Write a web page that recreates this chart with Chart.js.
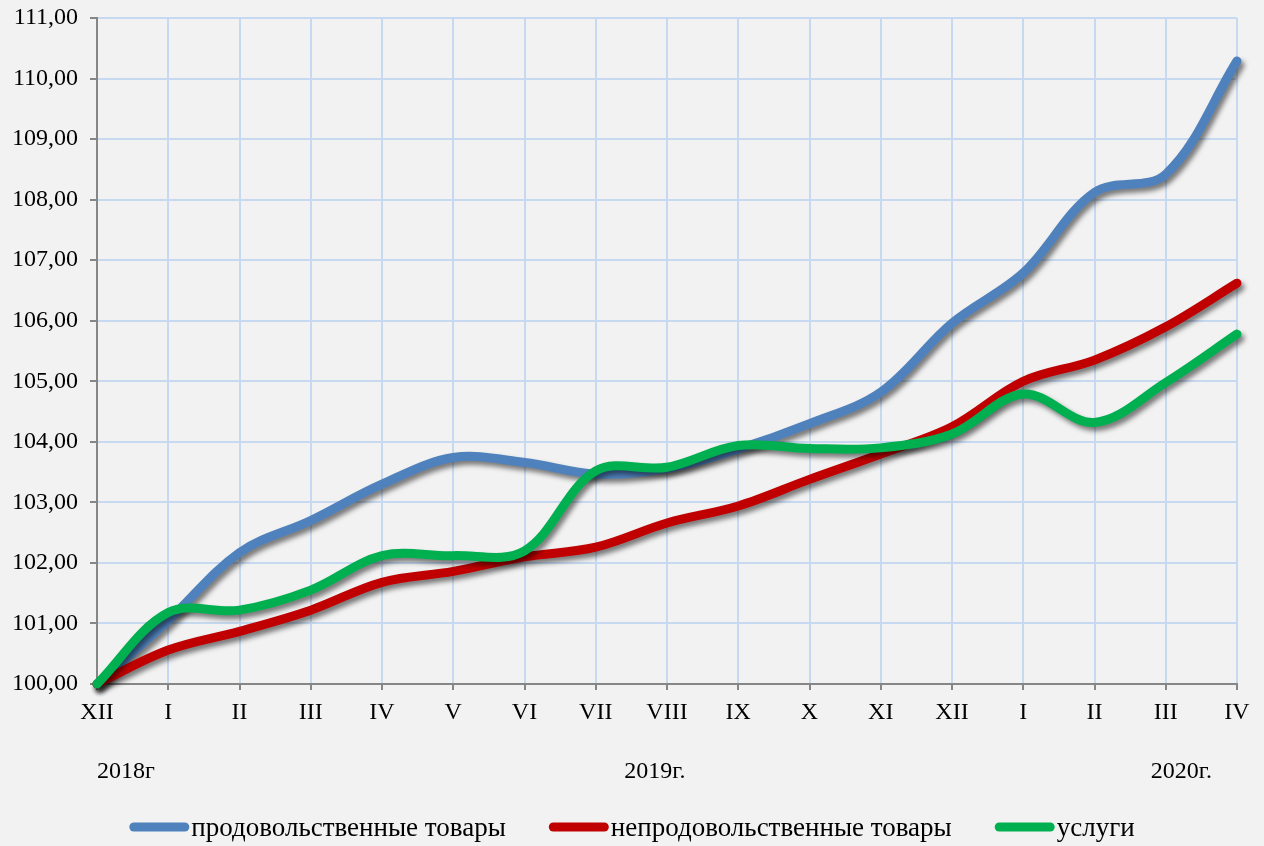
<!DOCTYPE html>
<html>
<head>
<meta charset="utf-8">
<script src="https://cdn.jsdelivr.net/npm/chart.js@4.4.1/dist/chart.umd.min.js"></script>
<style>
  html, body { margin: 0; padding: 0; background: #f2f2f2; }
  #chart { display: block; }
</style>
</head>
<body>
<canvas id="chart" width="1264" height="846"></canvas>
<script>
// months from XII 2018 to IV 2020
const months = ['XII', 'I', 'II', 'III', 'IV', 'V', 'VI', 'VII', 'VIII', 'IX', 'X', 'XI', 'XII', 'I', 'II', 'III', 'IV'];
const food = [100.00, 101.05, 102.17, 102.70, 103.30, 103.74, 103.66, 103.47, 103.56, 103.88, 104.30, 104.82, 105.96, 106.79, 108.12, 108.42, 110.29];
const nonFood = [100.00, 100.56, 100.87, 101.22, 101.68, 101.86, 102.10, 102.26, 102.66, 102.94, 103.38, 103.80, 104.25, 105.00, 105.35, 105.90, 106.62];
const services = [100.00, 101.18, 101.22, 101.55, 102.12, 102.12, 102.20, 103.52, 103.58, 103.94, 103.89, 103.90, 104.13, 104.79, 104.32, 104.98, 105.78];
const seriesNames = ['продовольственные товары', 'непродовольственные товары', 'услуги'];
const yearLabels = ['2018г', '2019г.', '2020г.'];
const yMin = 100;
const yMax = 111;

const FONT = "'Times New Roman', 'Liberation Serif', serif";
const colors = ['#4f81bd', '#c00000', '#00b050'];
const gridColor = '#c6d9f1';
const axisColor = '#868686';

// drop shadow under every line
const lineShadow = {
  id: 'lineShadow',
  beforeDatasetDraw(chart) {
    const c = chart.ctx;
    c.save();
    c.shadowColor = 'rgba(0, 0, 0, 0.5)';
    c.shadowBlur = 5;
    c.shadowOffsetX = 3;
    c.shadowOffsetY = 4;
  },
  afterDatasetDraw(chart) {
    chart.ctx.restore();
  }
};

// year captions under the axis + legend row
const extras = {
  id: 'extras',
  afterDraw(chart) {
    const ctx = chart.ctx;
    const xs = chart.scales.x;
    ctx.save();
    ctx.fillStyle = '#000';
    ctx.font = '24px ' + FONT;
    ctx.textBaseline = 'middle';

    const yearPos = [[0, 'left'], [7.83, 'center'], [15.22, 'center']];
    yearLabels.forEach((t, i) => {
      ctx.textAlign = yearPos[i][1];
      ctx.fillText(t, xs.getPixelForValue(yearPos[i][0]), 772);
    });

    // legend
    ctx.font = '27px ' + FONT;
    const markW = 60, gap = 2, spacing = 43, ly = 829;
    const items = chart.data.datasets.map(ds => ({
      text: ds.label,
      color: ds.borderColor,
      w: markW + gap + ctx.measureText(ds.label).width
    }));
    const total = items.reduce((s, it) => s + it.w, 0) + spacing * (items.length - 1);
    let x = (chart.width - total) / 2;
    ctx.textAlign = 'left';
    items.forEach(it => {
      ctx.strokeStyle = it.color;
      ctx.lineWidth = 9;
      ctx.lineCap = 'round';
      ctx.beginPath();
      ctx.moveTo(x + 4.5, ly - 2);
      ctx.lineTo(x + markW - 4.5, ly - 2);
      ctx.stroke();
      ctx.fillText(it.text, x + markW + gap, ly);
      x += it.w + spacing;
    });
    ctx.restore();
  }
};

const ticksFont = { family: FONT, size: 24 };

new Chart(document.getElementById('chart'), {
  type: 'line',
  data: {
    labels: months,
    datasets: [
      { label: seriesNames[0], data: food, borderColor: colors[0], backgroundColor: colors[0], order: 3 },
      { label: seriesNames[1], data: nonFood, borderColor: colors[1], backgroundColor: colors[1], order: 2 },
      { label: seriesNames[2], data: services, borderColor: colors[2], backgroundColor: colors[2], order: 1 }
    ]
  },
  plugins: [lineShadow, extras],
  options: {
    responsive: false,
    animation: false,
    layout: { padding: { top: 18, right: 27, bottom: 0, left: 0 } },
    datasets: { line: { clip: false } },
    elements: {
      point: { radius: 0 },
      line: { borderWidth: 9, tension: 0.35, borderCapStyle: 'round', borderJoinStyle: 'round', fill: false }
    },
    plugins: {
      legend: { display: false },
      tooltip: { enabled: false }
    },
    scales: {
      x: {
        offset: false,
        grid: { color: gridColor, lineWidth: 2, tickColor: axisColor, tickLength: 6, tickWidth: 2, offset: false },
        border: { color: axisColor, width: 2 },
        ticks: { color: '#000', font: ticksFont, padding: 8, maxRotation: 0, autoSkip: false },
        afterFit(s) { s.height = 162; s.paddingLeft = 0; s.paddingRight = 0; }
      },
      y: {
        min: yMin,
        max: yMax,
        grid: { color: gridColor, lineWidth: 2, tickColor: axisColor, tickLength: 7, tickWidth: 2 },
        border: { color: axisColor, width: 2 },
        ticks: {
          stepSize: 1,
          color: '#000',
          font: ticksFont,
          padding: 12,
          callback: v => v.toFixed(2).replace('.', ',')
        },
        afterFit(s) { s.width = 97; s.paddingTop = 0; s.paddingBottom = 0; }
      }
    }
  }
});
</script>
</body>
</html>
